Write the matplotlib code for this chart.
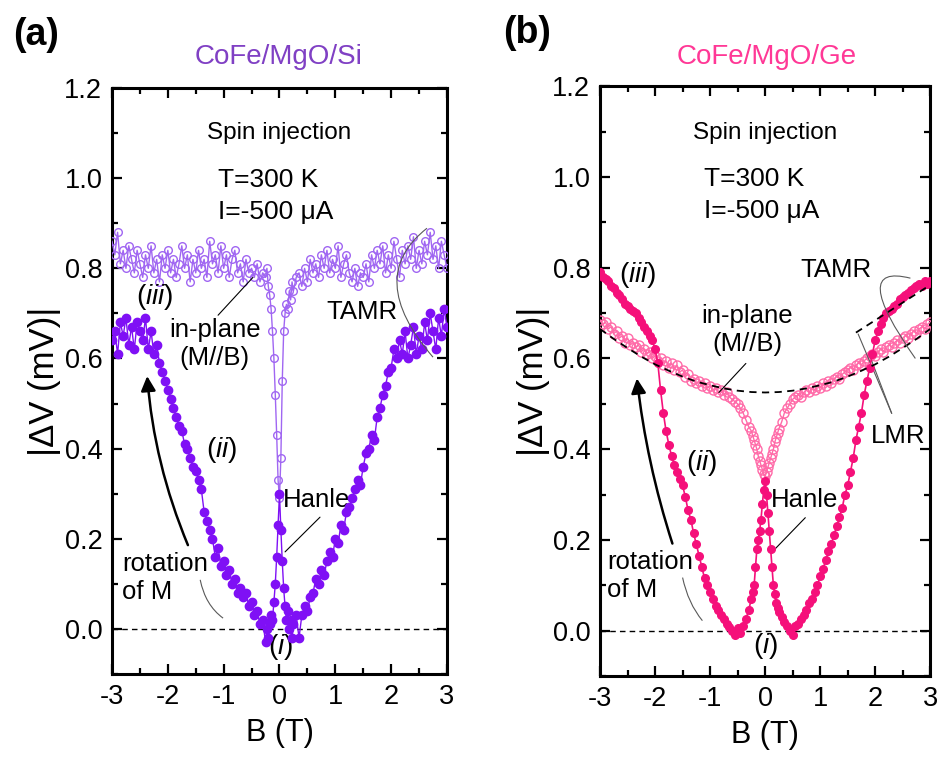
import numpy as np
import matplotlib
matplotlib.use("Agg")
import matplotlib.pyplot as plt
from matplotlib.path import Path
from matplotlib.patches import PathPatch, FancyArrowPatch
from matplotlib.ticker import MultipleLocator, FormatStrFormatter

plt.rcParams['font.family'] = ['Liberation Sans', 'DejaVu Sans']
plt.rcParams['mathtext.fontset'] = 'custom'
plt.rcParams['mathtext.rm'] = 'Liberation Sans'
plt.rcParams['mathtext.it'] = 'Liberation Sans:italic'
plt.rcParams['axes.unicode_minus'] = False

# field sweep (T), same for both samples
field = [
    -3.0, -2.95, -2.9, -2.85, -2.8, -2.75, -2.7, -2.65, -2.6, -2.55,
    -2.5, -2.45, -2.4, -2.35, -2.3, -2.25, -2.2, -2.15, -2.1, -2.05,
    -2.0, -1.95, -1.9, -1.85, -1.8, -1.75, -1.7, -1.65, -1.6, -1.55,
    -1.5, -1.45, -1.4, -1.35, -1.3, -1.25, -1.2, -1.15, -1.1, -1.05,
    -1.0, -0.95, -0.9, -0.85, -0.8, -0.75, -0.7, -0.65, -0.6, -0.55,
    -0.5, -0.45, -0.4, -0.35, -0.3,
    -0.25, -0.225, -0.2, -0.175, -0.15, -0.125, -0.1, -0.075, -0.05, -0.025,
    0.0, 0.025, 0.05, 0.075, 0.1, 0.125, 0.15, 0.175, 0.2, 0.225, 0.25,
    0.3, 0.35, 0.4, 0.45, 0.5, 0.55, 0.6, 0.65, 0.7, 0.75,
    0.8, 0.85, 0.9, 0.95, 1.0, 1.05, 1.1, 1.15, 1.2, 1.25,
    1.3, 1.35, 1.4, 1.45, 1.5, 1.55, 1.6, 1.65, 1.7, 1.75,
    1.8, 1.85, 1.9, 1.95, 2.0, 2.05, 2.1, 2.15, 2.2, 2.25,
    2.3, 2.35, 2.4, 2.45, 2.5, 2.55, 2.6, 2.65, 2.7, 2.75,
    2.8, 2.85, 2.9, 2.95, 3.0]

# CoFe/MgO/Si, |dV| in mV
si_perp = [
    0.64, 0.66, 0.61, 0.68, 0.65, 0.69, 0.63, 0.67, 0.62, 0.68,
    0.66, 0.64, 0.69, 0.62, 0.66, 0.61, 0.63, 0.59, 0.57, 0.55,
    0.53, 0.51, 0.49, 0.47, 0.45, 0.44, 0.41, 0.40, 0.38, 0.36,
    0.35, 0.33, 0.31, 0.26, 0.24, 0.22, 0.20, 0.16, 0.18, 0.14,
    0.15, 0.12, 0.13, 0.10, 0.11, 0.08, 0.09, 0.07, 0.08, 0.05,
    0.06, 0.03, 0.04, 0.01, 0.02,
    -0.03, 0.00, -0.02, 0.01, 0.03, 0.02, 0.06, 0.10, 0.16, 0.23,
    0.30, 0.22, 0.15, 0.09, 0.05, 0.02, 0.04, 0.00, 0.02, -0.02, 0.01,
    0.03, -0.02, 0.03, 0.05, 0.04, 0.07, 0.08, 0.11, 0.10, 0.13,
    0.12, 0.15, 0.17, 0.16, 0.20, 0.19, 0.23, 0.22, 0.26, 0.27,
    0.29, 0.31, 0.33, 0.32, 0.36, 0.39, 0.40, 0.43, 0.42, 0.47,
    0.49, 0.52, 0.54, 0.57, 0.58, 0.62, 0.60, 0.64, 0.61, 0.66,
    0.60, 0.63, 0.67, 0.61, 0.65, 0.62, 0.68, 0.64, 0.70, 0.66,
    0.62, 0.69, 0.65, 0.71, 0.67]
si_par = [
    0.86, 0.83, 0.88, 0.81, 0.84, 0.80, 0.85, 0.82, 0.79, 0.84,
    0.81, 0.78, 0.83, 0.80, 0.85, 0.79, 0.82, 0.77, 0.83, 0.80,
    0.84, 0.79, 0.82, 0.78, 0.81, 0.85, 0.80, 0.83, 0.77, 0.82,
    0.79, 0.84, 0.80, 0.82, 0.78, 0.86, 0.81, 0.83, 0.79, 0.85,
    0.80, 0.83, 0.78, 0.82, 0.84, 0.79, 0.81, 0.77, 0.82, 0.79,
    0.80, 0.78, 0.81, 0.77, 0.79,
    0.78, 0.80, 0.76, 0.74, 0.71, 0.66, 0.60, 0.52, 0.43, 0.33,
    0.29, 0.38, 0.55, 0.66, 0.70, 0.72, 0.71, 0.75, 0.73, 0.77, 0.75,
    0.78, 0.79, 0.76, 0.80, 0.77, 0.82, 0.79, 0.81, 0.78, 0.83,
    0.80, 0.84, 0.79, 0.82, 0.80, 0.85, 0.78, 0.81, 0.83, 0.79,
    0.77, 0.80, 0.76, 0.79, 0.78, 0.81, 0.77, 0.83, 0.80, 0.84,
    0.81, 0.85, 0.79, 0.83, 0.80, 0.86, 0.82, 0.78, 0.84, 0.81,
    0.85, 0.82, 0.87, 0.80, 0.84, 0.81, 0.86, 0.83, 0.88, 0.82,
    0.85, 0.80, 0.86, 0.83, 0.80]

# CoFe/MgO/Ge
ge_perp = [
    0.79, 0.78, 0.775, 0.77, 0.76, 0.755, 0.745, 0.74, 0.73, 0.72,
    0.715, 0.71, 0.705, 0.70, 0.69, 0.68, 0.67, 0.66, 0.65, 0.64,
    0.62, 0.59, 0.53, 0.48, 0.44, 0.41, 0.385, 0.365, 0.35, 0.335,
    0.32, 0.295, 0.265, 0.245, 0.215, 0.19, 0.165, 0.14, 0.115, 0.10,
    0.085, 0.07, 0.055, 0.045, 0.035, 0.025, 0.015, 0.008, 0.0, -0.01,
    0.005, -0.005, 0.01, 0.025, 0.045,
    0.07, 0.085, 0.10, 0.14, 0.18, 0.20, 0.22, 0.245, 0.28, 0.31,
    0.33, 0.30, 0.26, 0.22, 0.18, 0.14, 0.10, 0.08, 0.06, 0.05, 0.04,
    0.03, 0.02, 0.01, 0.0, -0.01, 0.01, 0.015, 0.025, 0.035, 0.045,
    0.06, 0.07, 0.085, 0.10, 0.12, 0.135, 0.155, 0.175, 0.19, 0.21,
    0.23, 0.25, 0.27, 0.30, 0.32, 0.35, 0.38, 0.42, 0.45, 0.48,
    0.52, 0.55, 0.58, 0.61, 0.64, 0.66, 0.675, 0.69, 0.70, 0.705,
    0.71, 0.715, 0.72, 0.73, 0.735, 0.74, 0.745, 0.75, 0.755, 0.76,
    0.765, 0.76, 0.77, 0.765, 0.77]
ge_par = [
    0.685, 0.675, 0.68, 0.665, 0.67, 0.655, 0.66, 0.645, 0.65, 0.635,
    0.645, 0.63, 0.635, 0.625, 0.63, 0.615, 0.62, 0.61, 0.615, 0.60,
    0.605, 0.595, 0.60, 0.585, 0.595, 0.58, 0.59, 0.575, 0.585, 0.57,
    0.575, 0.56, 0.565, 0.55, 0.555, 0.545, 0.55, 0.54, 0.545, 0.535,
    0.54, 0.53, 0.535, 0.525, 0.53, 0.52, 0.525, 0.515, 0.51, 0.505,
    0.50, 0.49, 0.48, 0.465, 0.45,
    0.44, 0.43, 0.42, 0.41, 0.40, 0.385, 0.375, 0.365, 0.355, 0.345,
    0.34, 0.35, 0.36, 0.37, 0.38, 0.39, 0.40, 0.415, 0.425, 0.435, 0.445,
    0.46, 0.48, 0.49, 0.50, 0.51, 0.515, 0.52, 0.515, 0.525, 0.53,
    0.525, 0.535, 0.53, 0.54, 0.535, 0.545, 0.54, 0.55, 0.545, 0.555,
    0.56, 0.555, 0.565, 0.57, 0.575, 0.58, 0.575, 0.585, 0.59, 0.585,
    0.595, 0.60, 0.605, 0.61, 0.605, 0.615, 0.62, 0.615, 0.625, 0.63,
    0.625, 0.635, 0.64, 0.635, 0.645, 0.65, 0.645, 0.655, 0.66, 0.655,
    0.665, 0.67, 0.665, 0.675, 0.68]

# dashed guide curves in (b)
fit_field = [-3.0, -2.75, -2.5, -2.25, -2.0, -1.75, -1.5, -1.25, -1.0, -0.75, -0.5, -0.25,
             0.0, 0.25, 0.5, 0.75, 1.0, 1.25, 1.5, 1.75, 2.0, 2.25, 2.5, 2.75, 3.0]
fit_inplane = [0.665, 0.643, 0.623, 0.604, 0.587, 0.573, 0.560, 0.549, 0.541, 0.534, 0.529, 0.526,
               0.525, 0.526, 0.529, 0.534, 0.541, 0.549, 0.560, 0.573, 0.587, 0.604, 0.623, 0.643, 0.665]
tamr_field = [1.65, 3.0]
tamr_fit = [0.657, 0.762]

si_dark, si_light, si_title = '#7F10F5', '#A066F2', '#8040C4'
ge_dark, ge_light, ge_title = '#F5107A', '#FF6AA8', '#FF3896'

fig = plt.figure(figsize=(9.38, 7.57), dpi=100)
ax1 = fig.add_axes([0.1194, 0.1096, 0.3571, 0.7741])
ax2 = fig.add_axes([0.6397, 0.107, 0.352, 0.779])

FS = 18.5
FS_ROMAN = 20


def style(ax):
    ax.set_xlim(-3, 3)
    ax.set_ylim(-0.1, 1.2)
    ax.xaxis.set_major_locator(MultipleLocator(1))
    ax.xaxis.set_minor_locator(MultipleLocator(0.5))
    ax.yaxis.set_minor_locator(MultipleLocator(0.1))
    ax.yaxis.set_major_formatter(FormatStrFormatter('%.1f'))
    ax.set_yticks([0, 0.2, 0.4, 0.6, 0.8, 1.0, 1.2])
    ax.tick_params(which='both', direction='in', top=True, right=True, labelsize=19.5)
    ax.tick_params(which='major', length=7, width=1.6, pad=7)
    ax.tick_params(which='minor', length=4, width=1.6)
    for s in ax.spines.values():
        s.set_linewidth(2.2)
    ax.axhline(0, color='k', lw=1, ls=(0, (4, 3)), zorder=1)
    ax.set_xlabel('B (T)', fontsize=22, labelpad=6)
    ax.set_ylabel('|\u0394V (mV)|', fontsize=25, labelpad=2)


def curve(ax, p0, c, p2, color='0.35', lw=0.8):
    path = Path([p0, c, p2], [Path.MOVETO, Path.CURVE3, Path.CURVE3])
    ax.add_patch(PathPatch(path, fc='none', ec=color, lw=lw, zorder=6))


def pointer(ax, p0, p1, color='k', lw=0.8):
    ax.annotate('', xy=p1, xytext=p0,
                arrowprops=dict(arrowstyle='-', color=color, lw=lw, shrinkA=0, shrinkB=0))


def big_arrow(ax, p0, p1, rad):
    ax.add_patch(FancyArrowPatch(p0, p1, arrowstyle='-|>', mutation_scale=22, color='k', lw=1.8,
                                 connectionstyle='arc3,rad=%g' % rad, shrinkA=0, shrinkB=0, zorder=6))


# ---- (a) ----
style(ax1)
ax1.plot(field, si_par, '-o', color=si_light, lw=1, ms=5.5, mfc='none', mew=1, zorder=3)
ax1.plot(field, si_perp, '-o', color=si_dark, lw=1, ms=6, mec=si_dark, zorder=4)

ax1.text(0, 1.10, 'Spin injection', fontsize=17.5, ha='center', va='center')
ax1.text(-1.10, 0.995, 'T=300 K', fontsize=19, ha='left', va='center')
ax1.text(-1.10, 0.925, 'I=-500 \u03bcA', fontsize=19, ha='left', va='center')
ax1.text(-2.23, 0.736, r'($\it{iii}$)', fontsize=FS_ROMAN, ha='center', va='center')
ax1.text(-1.16, 0.632, 'in-plane\n(M//B)', fontsize=FS, ha='center', va='center', linespacing=1.2)
ax1.text(1.48, 0.703, 'TAMR', fontsize=FS, ha='center', va='center')
ax1.text(-1.03, 0.397, r'($\it{ii}$)', fontsize=FS_ROMAN, ha='center', va='center')
ax1.text(-2.82, 0.113, 'rotation\nof M', fontsize=FS, ha='left', va='center', linespacing=1.2)
ax1.text(0.66, 0.286, 'Hanle', fontsize=FS, ha='center', va='center')
ax1.text(0.01, -0.04, r'($\it{i}$)', fontsize=FS_ROMAN, ha='center', va='center')

pointer(ax1, (-1.10, 0.696), (-0.475, 0.78))
pointer(ax1, (0.726, 0.248), (0.10, 0.171))
curve(ax1, (-1.42, 0.109), (-1.33, 0.053), (-1.01, 0.024))
curve(ax1, (2.642, 0.889), (1.514, 0.780), (2.75, 0.603))
big_arrow(ax1, (-1.64, 0.186), (-2.37, 0.561), -0.08)

# ---- (b) ----
style(ax2)
ax2.plot(field, ge_par, '-o', color=ge_light, lw=1, ms=6.5, mfc='none', mew=1, zorder=3)
ax2.plot(field, ge_perp, '-o', color=ge_dark, lw=1.2, ms=5.5, mec=ge_dark, zorder=4)
ax2.plot(fit_field, fit_inplane, color='k', lw=1.3, ls=(0, (4, 3)), zorder=5)
ax2.plot(tamr_field, tamr_fit, color='k', lw=1.3, ls=(0, (4, 3)), zorder=5)

ax2.text(0, 1.097, 'Spin injection', fontsize=17.5, ha='center', va='center')
ax2.text(-1.11, 0.995, 'T=300 K', fontsize=19, ha='left', va='center')
ax2.text(-1.11, 0.925, 'I=-500 \u03bcA', fontsize=19, ha='left', va='center')
ax2.text(-2.32, 0.784, r'($\it{iii}$)', fontsize=FS_ROMAN, ha='center', va='center')
ax2.text(-0.33, 0.662, 'in-plane\n(M//B)', fontsize=FS, ha='center', va='center', linespacing=1.2)
ax2.text(1.29, 0.795, 'TAMR', fontsize=FS, ha='center', va='center')
ax2.text(2.41, 0.43, 'LMR', fontsize=FS, ha='center', va='center')
ax2.text(-1.16, 0.369, r'($\it{ii}$)', fontsize=FS_ROMAN, ha='center', va='center')
ax2.text(-2.87, 0.121, 'rotation\nof M', fontsize=FS, ha='left', va='center', linespacing=1.2)
ax2.text(0.72, 0.287, 'Hanle', fontsize=FS, ha='center', va='center')
ax2.text(0.01, -0.033, r'($\it{i}$)', fontsize=FS_ROMAN, ha='center', va='center')

pointer(ax2, (-0.35, 0.589), (-0.84, 0.525))
pointer(ax2, (0.73, 0.249), (0.10, 0.17))
pointer(ax2, (2.30, 0.479), (1.69, 0.654), color='0.35')
pointer(ax2, (2.30, 0.479), (1.92, 0.600), color='0.35')
curve(ax2, (-1.50, 0.117), (-1.40, 0.06), (-1.14, 0.022))
curve(ax2, (2.64, 0.777), (1.50, 0.812), (2.73, 0.600))
big_arrow(ax2, (-1.685, 0.192), (-2.33, 0.556), -0.05)

# panel labels and titles
fig.text(0.014, 0.954, '(a)', fontsize=27, fontweight='bold', ha='left', va='center')
fig.text(0.536, 0.957, '(b)', fontsize=27, fontweight='bold', ha='left', va='center')
fig.text(0.2975, 0.925, 'CoFe/MgO/Si', fontsize=20, color=si_title, ha='center', va='center')
fig.text(0.817, 0.925, 'CoFe/MgO/Ge', fontsize=20, color=ge_title, ha='center', va='center')

fig.savefig('out.png', dpi=100)
